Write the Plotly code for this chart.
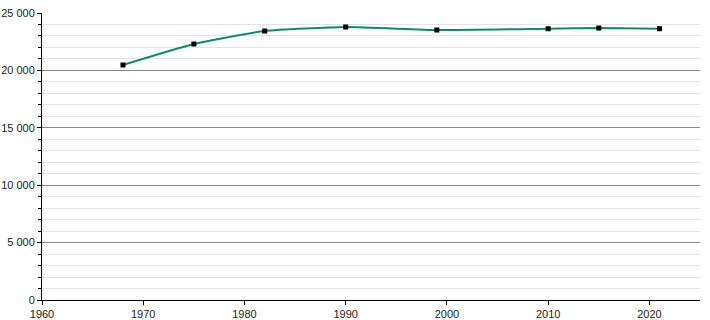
import plotly.graph_objects as go

years = [1968, 1975, 1982, 1990, 1999, 2010, 2015, 2021]
population = [20470, 22300, 23430, 23780, 23520, 23630, 23690, 23630]

x_ticks = [1960, 1970, 1980, 1990, 2000, 2010, 2020]
y_ticks = [0, 5000, 10000, 15000, 20000, 25000]

fig = go.Figure()
fig.add_trace(go.Scatter(
    x=years, y=population, mode="lines",
    line=dict(color="#0b8c6a", width=2, shape="spline", smoothing=0.5),
    hoverinfo="skip", showlegend=False,
))
fig.add_trace(go.Scatter(
    x=years, y=population, mode="markers",
    marker=dict(color="black", size=5, symbol="square"),
    showlegend=False,
))

fig.update_layout(
    width=710, height=320,
    margin=dict(l=42, r=10, t=13, b=20, autoexpand=False),
    paper_bgcolor="white", plot_bgcolor="white",
    separators=". ",
    font=dict(family="Liberation Sans, Arial, sans-serif", size=11, color="#222222"),
    xaxis=dict(
        range=[1960, 2025], tickvals=x_ticks, tickformat="d", showgrid=False, zeroline=False,
        showline=True, linecolor="black", linewidth=1, automargin=False,
        ticks="outside", ticklen=4, tickcolor="black",
    ),
    yaxis=dict(
        range=[0, 25000], tickvals=y_ticks, tickformat=",d", showgrid=True,
        gridcolor="#8a8a8a", gridwidth=1, zeroline=False,
        showline=True, linecolor="black", linewidth=1, automargin=False,
        ticks="outside", ticklen=4, tickcolor="black",
        minor=dict(dtick=1000, showgrid=True, gridcolor="#e4e4e4",
                   ticks="outside", ticklen=3, tickcolor="black"),
    ),
)

fig.write_html("out.html")
